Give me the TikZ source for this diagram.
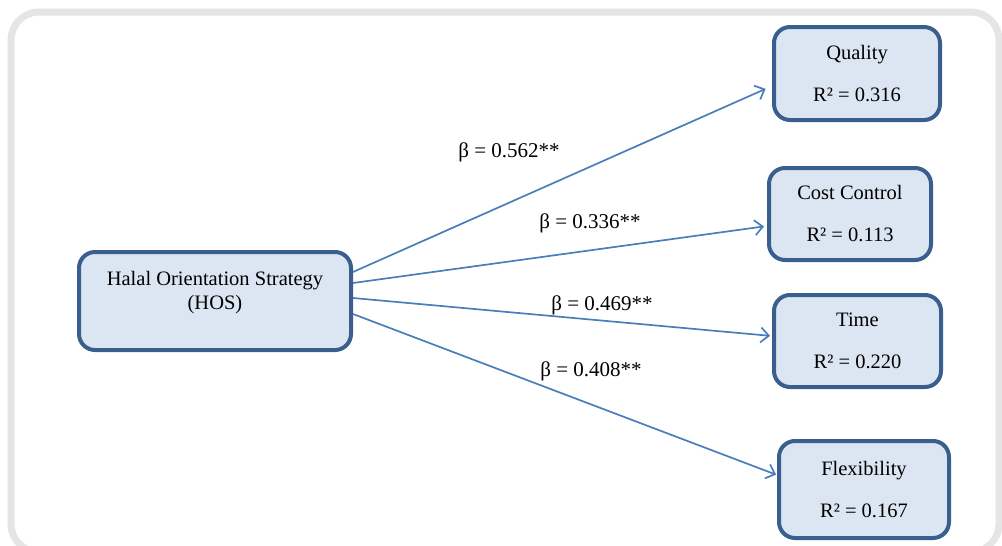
\documentclass[tikz,border=0pt]{standalone}
\usepackage{fontspec}
\setmainfont{Liberation Serif}
\usetikzlibrary{arrows.meta}
\definecolor{boxline}{HTML}{3A5F8E}
\definecolor{boxfill}{HTML}{DCE6F2}
\definecolor{arrowc}{HTML}{4A7EBB}
\definecolor{framec}{HTML}{E5E5E5}
\begin{document}
\begin{tikzpicture}[x=1pt,y=-1pt,
  box/.style={draw=boxline, line width=4pt, fill=boxfill, rounded corners=16pt, inner sep=0pt, align=center, font=\fontsize{20.5}{24}\selectfont},
  txt/.style={align=center, font=\fontsize{20.5}{24}\selectfont, inner sep=0pt},
  lab/.style={font=\fontsize{21}{24}\selectfont, inner sep=0pt},
  arr/.style={draw=arrowc, line width=1.7pt, -{Straight Barb[length=8pt,width=15pt,line width=1.7pt]}}]
\useasboundingbox (0,0) rectangle (1002,546);
\draw[framec, line width=7pt, rounded corners=28pt] (11,12) rectangle (999,552);

\node[box, minimum width=272pt, minimum height=98pt] (hos) at (215,301) {};
\node[txt] (hostext) at ([yshift=8pt]hos.center) {Halal Orientation Strategy\\(HOS)};

\node[box, minimum width=166pt, minimum height=93pt] (quality) at (857,73.5) {Quality\\[18pt]R² = 0.316};
\node[box, minimum width=162pt, minimum height=92pt] (cost) at (850,214) {Cost Control\\[18pt]R² = 0.113};
\node[box, minimum width=167pt, minimum height=92pt] (time) at (857.5,341) {Time\\[18pt]R² = 0.220};
\node[box, minimum width=170pt, minimum height=97pt] (flex) at (864,489.5) {Flexibility\\[18pt]R² = 0.167};

\draw[arr, shorten >=7pt] ([yshift=29pt]hos.east) -- ([yshift=-12.5pt]quality.west);
\draw[arr, shorten >=3pt] ([yshift=18pt]hos.east) -- ([yshift=-12pt]cost.west);
\draw[arr, shorten >=2pt] ([yshift=3pt]hos.east) -- ([yshift=5pt]time.west);
\draw[arr, shorten >=1pt] ([yshift=-13pt]hos.east) -- ([yshift=14.5pt]flex.west);

\node[lab] (b1) at (509,152) {β = 0.562**};
\node[lab] (b2) at (590,223) {β = 0.336**};
\node[lab] (b3) at (602,305) {β = 0.469**};
\node[lab] (b4) at (591,371) {β = 0.408**};
\end{tikzpicture}
\end{document}
